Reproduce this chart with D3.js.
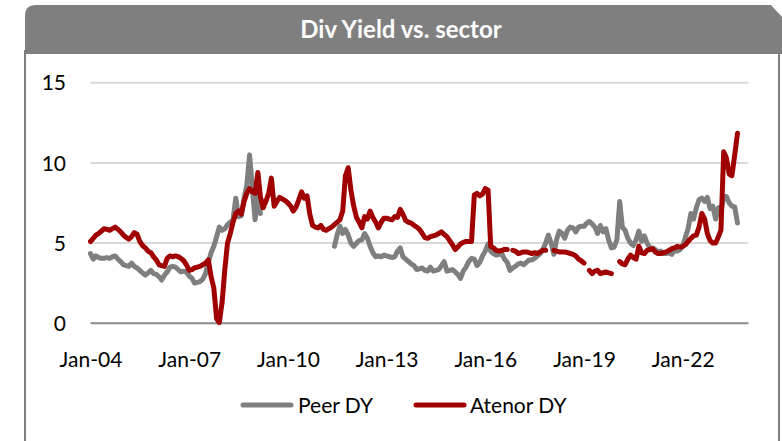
<!DOCTYPE html>
<html>
<head>
<meta charset="utf-8">
<script src="https://cdn.jsdelivr.net/npm/d3@7"></script>
<style>
  html, body { margin: 0; padding: 0; background: #ffffff; }
  svg { display: block; }
</style>
</head>
<body>
<svg id="chart" width="782" height="441"></svg>
<script>
// ---- Data (monthly, starting Jan 2004) ----
const chartTitle = "Div Yield vs. sector";
const seriesNames = ["Peer DY", "Atenor DY"];
const startMonth = "2004-01";
const xTickLabels = ["Jan-04", "Jan-07", "Jan-10", "Jan-13", "Jan-16", "Jan-19", "Jan-22"];
const yTicks = [0, 5, 10, 15];

const peerDY = [
  // 2004
  4.35, 4.0, 4.2, 4.1, 4.05, 4.05, 4.1, 4.05, 4.15, 4.2, 4.0, 3.85,
  // 2005
  3.65, 3.6, 3.55, 3.75, 3.55, 3.45, 3.3, 3.15, 3.0, 3.15, 3.3, 3.1,
  // 2006
  3.05, 2.9, 2.7, 3.0, 3.2, 3.5, 3.55, 3.5, 3.35, 3.2, 3.25, 3.2,
  // 2007
  2.95, 2.8, 2.5, 2.55, 2.6, 2.75, 3.1, 3.8, 4.4, 4.8, 5.4, 6.0,
  // 2008
  5.8, 5.9, 6.15, 6.3, 6.45, 7.8, 6.65, 6.7, 7.8, 8.6, 10.5, 8.5,
  // 2009
  6.45, 8.0, 6.85, null, null, null, null, null, null, null, null, null,
  // 2010
  null, null, null, null, null, null, null, null, null, null, null, null,
  // 2011
  null, null, null, null, null, 4.8, 5.5, 6.05, 5.6, 5.85, 5.5, 5.0,
  // 2012
  4.8, 5.0, 5.15, 5.2, 5.6, 5.3, 4.8, 4.4, 4.15, 4.2, 4.15, 4.25,
  // 2013
  4.2, 4.15, 4.1, 4.15, 4.5, 4.7, 4.15, 4.0, 3.85, 3.7, 3.6, 3.35,
  // 2014
  3.4, 3.45, 3.3, 3.25, 3.5, 3.25, 3.3, 3.35, 3.6, 3.85, 3.25, 3.3,
  // 2015
  3.35, 3.2, 3.05, 2.8, 3.25, 3.5, 3.85, 4.05, 4.0, 3.6, 3.8, 4.2,
  // 2016
  4.5, 4.95, 4.5, 4.35, 4.25, 4.3, 4.35, 4.0, 3.8, 3.3, 3.45, 3.55,
  // 2017
  3.7, 3.75, 3.65, 3.8, 3.95, 3.95, 4.05, 4.2, 4.35, 4.6, 5.0, 5.5,
  // 2018
  5.0, 4.3, 5.2, 5.75, 5.6, 5.3, 5.8, 6.0, 5.95, 5.7, 6.0, 6.05,
  // 2019
  6.05, 6.25, 6.35, 6.2, 6.0, 5.6, 6.1, 5.7, 5.9, 5.2, 4.7, 4.75,
  // 2020
  5.2, 7.6, 6.0, 5.8, 5.3, 5.0, 4.85, 5.2, 5.75, 5.1, 5.45, 5.0,
  // 2021
  4.7, 4.7, 4.6, 4.45, 4.5, 4.35, 4.35, 4.4, 4.3, 4.55, 4.5, 4.6,
  // 2022
  4.8, 5.4, 5.9, 6.85, 6.5, 7.2, 7.7, 7.8, 7.6, 7.85, 7.15, 7.3,
  // 2023
  6.5, 7.2, 7.0, 7.9, 7.9, 7.5, 7.3, 7.25, 6.25
];

const atenorDY = [
  // 2004
  5.1, 5.3, 5.5, 5.6, 5.75, 5.9, 5.85, 5.8, 5.9, 6.0, 5.85, 5.7,
  // 2005
  5.5, 5.35, 5.25, 5.4, 5.65, 5.55, 5.1, 4.85, 4.7, 4.5, 4.4, 4.15,
  // 2006
  3.95, 3.65, 3.6, 3.55, 4.05, 4.2, 4.15, 4.2, 4.15, 4.05, 3.9, 3.65,
  // 2007
  3.3, 3.35, 3.45, 3.5, 3.55, 3.65, 3.75, 3.95, 2.9, 2.2, 0.3, 0.05,
  // 2008
  1.3, 3.4, 5.0, 5.6, 6.3, 6.85, 7.0, 6.8, 7.6, 8.1, 8.4, 8.2,
  // 2009
  8.1, 9.4, 7.9, 7.2, 7.6, 8.1, 9.05, 7.3, 7.6, 7.85, 7.75, 7.65,
  // 2010
  7.5, 7.3, 7.0, 7.25, 7.7, 8.2, 7.8, 7.95, 6.8, 6.1, 6.0, 5.95,
  // 2011
  6.1, 5.85, 5.8, 5.9, 6.0, 6.15, 6.3, 6.45, 7.0, 9.2, 9.7, 8.3,
  // 2012
  7.3, 6.6, 6.3, 5.95, 6.65, 6.5, 7.0, 6.6, 6.3, 5.95, 6.3, 6.55,
  // 2013
  6.55, 6.5, 6.45, 6.65, 6.6, 7.1, 6.8, 6.4, 6.3, 6.25, 6.1, 6.0,
  // 2014
  5.85, 5.6, 5.35, 5.3, 5.4, 5.45, 5.5, 5.6, 5.7, 5.55, 5.4, 5.15,
  // 2015
  4.9, 4.6, 4.75, 4.95, 5.05, 5.1, 5.1, 5.1, 8.0, 8.1, 7.95, 8.05,
  // 2016
  8.4, 8.3, 4.8, 4.7, 4.55, 4.5, 4.55, 4.6, 4.6, null, 4.55, 4.5,
  // 2017
  4.35, 4.4, 4.45, 4.45, 4.4, 4.35, 4.4, 4.35, 4.45, 4.55, 4.55, null,
  // 2018
  null, 4.55, 4.5, 4.45, 4.45, 4.45, 4.4, 4.35, 4.3, 4.2, 4.0, 3.9,
  // 2019
  3.75, null, 3.3, 3.1, 3.25, 3.3, 3.1, 3.15, 3.2, 3.15, 3.1, null,
  // 2020
  null, 3.85, 3.7, 3.65, 4.0, 4.25, 4.1, 4.0, 4.8, 4.4, 4.35, 4.55,
  // 2021
  4.6, 4.65, 4.45, 4.35, 4.35, 4.4, 4.45, 4.55, 4.65, 4.7, 4.8, 4.75,
  // 2022
  4.8, 4.9, 5.1, 5.3, 5.45, 5.5, 6.0, 6.85, 6.5, 5.6, 5.15, 5.0,
  // 2023
  5.0, 5.4, 5.8, 10.7, 10.3, 9.3, 9.2, 10.5, 11.85
];

// ---- Layout ----
const W = 782, H = 441;
const plot = { left: 90.5, right: 748.5, top: 82.7, bottom: 323.3 };
const GREY = "#7f7f7f";
const RED = "#a00000";
const FONT = "Lato, 'Open Sans', Arial, sans-serif";

const svg = d3.select("#chart");

// frame + title bar
svg.append("rect").attr("x", 0).attr("y", 0).attr("width", W).attr("height", H).attr("fill", "#ffffff");
svg.append("path")
  .attr("d", "M25,54 L25,16 Q25,5 36,5 L771,5 L782,17 L782,54 Z")
  .attr("fill", GREY);
svg.append("line").attr("x1", 25).attr("x2", 25).attr("y1", 50).attr("y2", H)
  .attr("stroke", GREY).attr("stroke-width", 2);
svg.append("line").attr("x1", 779).attr("x2", 779).attr("y1", 50).attr("y2", H)
  .attr("stroke", GREY).attr("stroke-width", 2);
svg.append("text")
  .attr("x", 401).attr("y", 38)
  .attr("text-anchor", "middle")
  .attr("fill", "#ffffff")
  .attr("font-family", FONT)
  .attr("font-weight", "bold")
  .attr("font-size", 24)
  .text(chartTitle);

// ---- Scales ----
const parseMonth = d3.timeParse("%Y-%m");
const t0 = parseMonth(startMonth);
const dates = d3.range(Math.max(peerDY.length, atenorDY.length)).map(i => d3.timeMonth.offset(t0, i));
const x = d3.scaleTime()
  .domain([t0, d3.timeYear.offset(t0, 20)])
  .range([plot.left, plot.right]);
const y = d3.scaleLinear().domain([0, 15]).range([plot.bottom, plot.top]);

// gridlines
const grid = svg.append("g");
grid.selectAll("line").data(yTicks).join("line")
  .attr("x1", plot.left).attr("x2", plot.right)
  .attr("y1", d => y(d)).attr("y2", d => y(d))
  .attr("stroke", d => d === 0 ? "#8c8c8c" : "#d9d9d9")
  .attr("stroke-width", 2);

// y axis labels
const yAxis = d3.axisLeft(y).tickValues(yTicks).tickSize(0).tickPadding(0);
const gy = svg.append("g").attr("transform", "translate(66,0)").call(yAxis);
gy.select(".domain").remove();
gy.selectAll("text")
  .attr("font-family", FONT).attr("font-size", 21).attr("fill", "#000")
  .attr("dy", "0.34em");

// x axis labels
const parseTick = d3.timeParse("%b-%y");
const xTickDates = xTickLabels.map(s => parseTick(s));
const xAxis = d3.axisBottom(x).tickValues(xTickDates)
  .tickFormat((d, i) => xTickLabels[i]).tickSize(0).tickPadding(0);
const gx = svg.append("g").attr("transform", "translate(0,352)").call(xAxis);
gx.select(".domain").remove();
gx.selectAll("text")
  .attr("font-family", FONT).attr("font-size", 21).attr("fill", "#000")
  .attr("dy", "0.71em");

// ---- Lines ----
function series(vals) {
  return vals.map((v, i) => ({ date: dates[i], v: v }));
}
const line = d3.line()
  .defined(d => d.v !== null && d.v !== undefined)
  .x(d => x(d.date))
  .y(d => y(d.v));

const colors = [GREY, RED];
[peerDY, atenorDY].forEach((vals, k) => {
  svg.append("path")
    .datum(series(vals))
    .attr("d", line)
    .attr("fill", "none")
    .attr("stroke", colors[k])
    .attr("stroke-width", 5)
    .attr("stroke-linejoin", "round")
    .attr("stroke-linecap", "round");
});

// ---- Legend ----
const legendItems = [
  { name: seriesNames[0], color: GREY, x1: 243, x2: 291, tx: 298 },
  { name: seriesNames[1], color: RED, x1: 416, x2: 464, tx: 470 }
];
const lg = svg.append("g");
legendItems.forEach(it => {
  lg.append("line").attr("x1", it.x1).attr("x2", it.x2).attr("y1", 405).attr("y2", 405)
    .attr("stroke", it.color).attr("stroke-width", 5).attr("stroke-linecap", "round");
  lg.append("text").attr("x", it.tx).attr("y", 405).attr("dy", "0.36em")
    .attr("font-family", FONT).attr("font-size", 21).attr("fill", "#000")
    .text(it.name);
});
</script>
</body>
</html>
